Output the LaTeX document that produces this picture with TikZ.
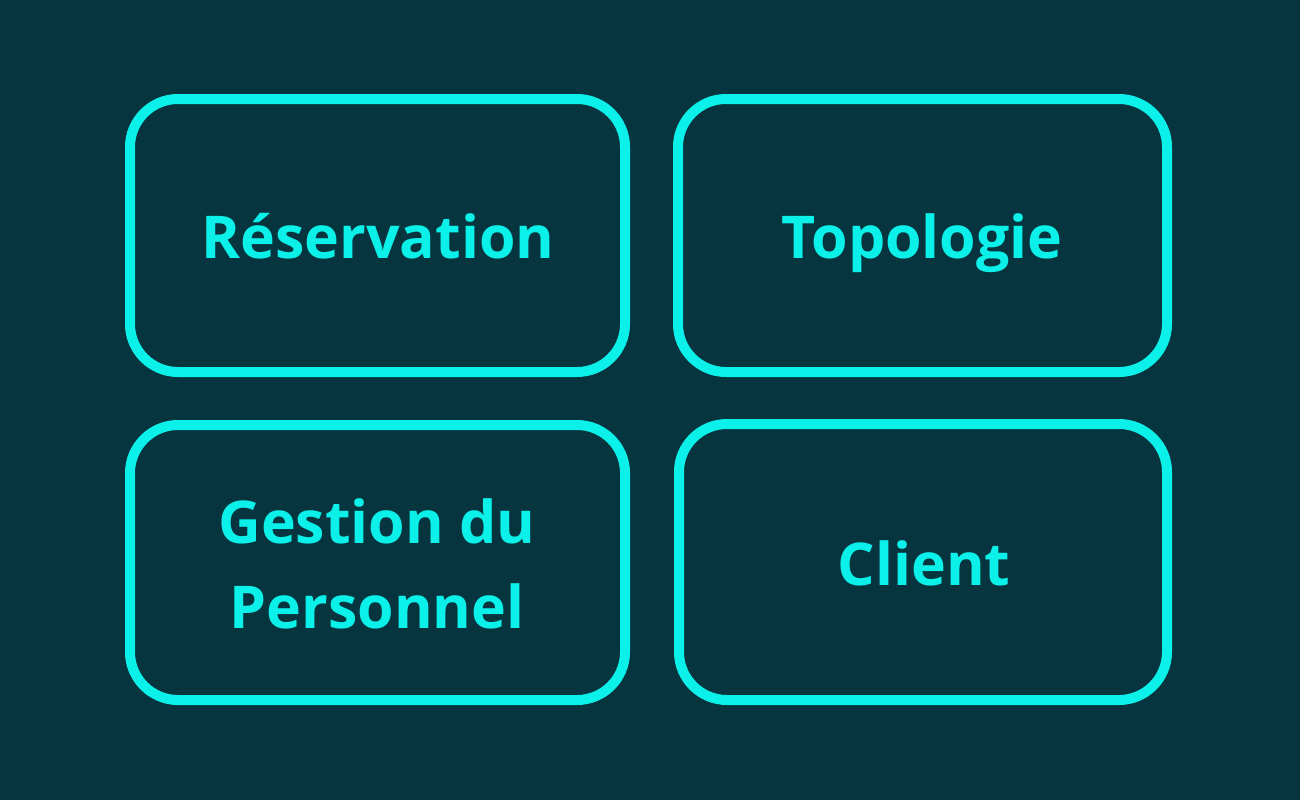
\documentclass[tikz,border=0pt]{standalone}
\usepackage{fontspec}
\setmainfont{Open Sans}
\definecolor{bgc}{HTML}{06343F}
\definecolor{cyanc}{HTML}{0BF0E8}
\tikzset{
  card/.style={draw=cyanc, line width=10pt, rounded corners=48pt, inner sep=0pt, outer sep=0pt},
  lbl/.style={text=cyanc, font=\fontsize{59}{85}\selectfont\bfseries, inner sep=0pt, anchor=base}
}
\begin{document}
\begin{tikzpicture}[x=1pt,y=-1pt]
\fill[bgc] (0,0) rectangle (1300,800);
\useasboundingbox (0,0) rectangle (1300,800);
\node[card, minimum width=495pt, minimum height=273pt] (b1) at (377.5,235.5) {};
\node[card, minimum width=489pt, minimum height=273pt] (b2) at (922.5,235.5) {};
\node[card, minimum width=495pt, minimum height=275pt] (b3) at (377.5,562.5) {};
\node[card, minimum width=488pt, minimum height=276pt] (b4) at (923,562) {};
\node[lbl] (t1) at (378,258) {Réservation};
\node[lbl] (t2) at (922,258) {Topologie};
\node[lbl] (t3a) at (377,543) {Gestion du};
\node[lbl] (t3b) at (377,628) {Personnel};
\node[lbl] (t4) at (924,585) {Client};
\end{tikzpicture}
\end{document}
